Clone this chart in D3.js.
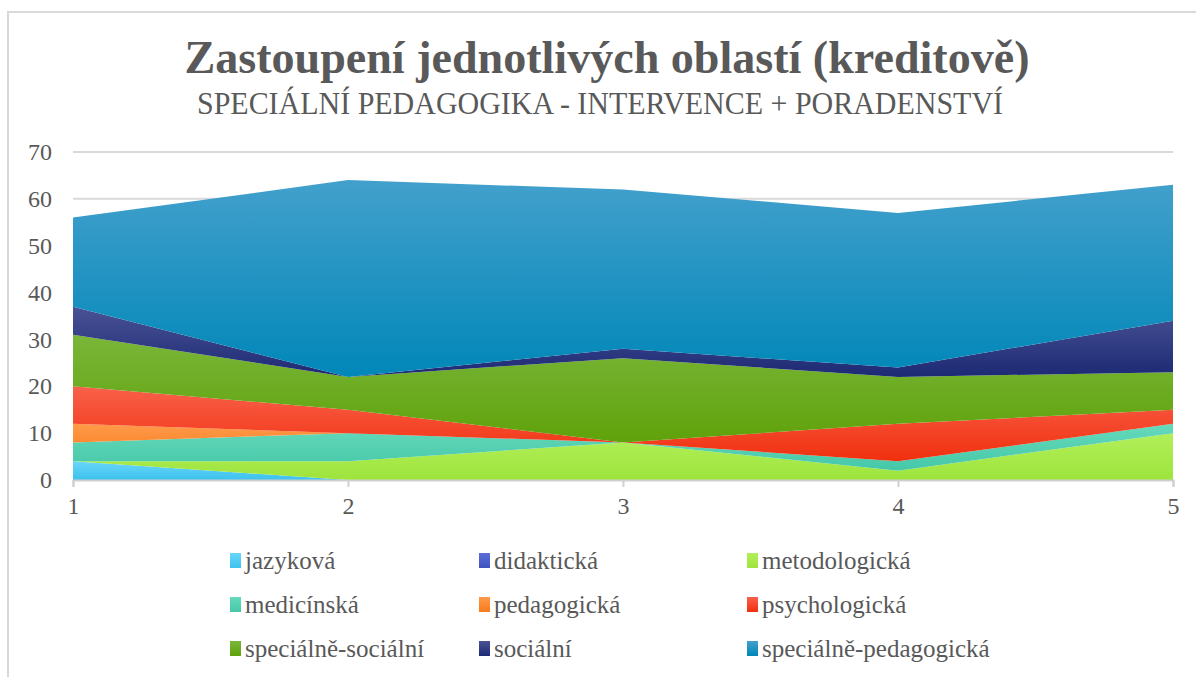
<!DOCTYPE html>
<html>
<head>
<meta charset="utf-8">
<script src="https://cdn.jsdelivr.net/npm/d3@7"></script>
<style>
  body { margin: 0; background: #fff; }
  svg { display: block; }
</style>
</head>
<body>
<svg id="chart" width="1196" height="677"></svg>
<script>
const categories = ['1', '2', '3', '4', '5']
const seriesNames = ['jazyková', 'didaktická', 'metodologická', 'medicínská', 'pedagogická',
    'psychologická', 'speciálně-sociální', 'sociální', 'speciálně-pedagogická']
const jazykova = [4, 0, 0, 0, 0]
const didakticka = [0, 0, 0, 0, 0]
const metodologicka = [0, 4, 8, 2, 10]
const medicinska = [4, 6, 0, 2, 2]
const pedagogicka = [4, 0, 0, 0, 0]
const psychologicka = [8, 5, 0, 8, 3]
const specialneSocialni = [11, 7, 18, 10, 8]
const socialni = [6, 0, 2, 2, 11]
const specialnePedagogicka = [19, 42, 34, 33, 29]
const yTicks = [0, 10, 20, 30, 40, 50, 60, 70]

const seriesValues = [jazykova, didakticka, metodologicka, medicinska, pedagogicka,
    psychologicka, specialneSocialni, socialni, specialnePedagogicka]
// light top / dark bottom, like the office gradients
const colors = [
    ['#6ad6f8', '#3cc2ee'],
    ['#5b6fd6', '#3f53c0'],
    ['#b2ef5a', '#9ee43c'],
    ['#66d9bb', '#45c8a8'],
    ['#ff9a4a', '#f87a1c'],
    ['#f9604a', '#f0300e'],
    ['#7ab63a', '#5fa20a'],
    ['#4a5294', '#1c2a74'],
    ['#43a0cc', '#0087b8']
]

const svg = d3.select('#chart')
const margin = { left: 73, right: 23, top: 152, bottom: 197 }
const width = 1196 - margin.left - margin.right
const height = 677 - margin.top - margin.bottom

const rows = categories.map((c, i) => {
    const r = { cat: c }
    seriesNames.forEach((n, j) => { r[n] = seriesValues[j][i] })
    return r
})
const stacked = d3.stack().keys(seriesNames)(rows)

const x = d3.scalePoint().domain(categories).range([0, width])
const y = d3.scaleLinear().domain([0, 70]).range([height, 0])

const font = "'Liberation Serif', 'DejaVu Serif', serif"

// chart frame
svg.append('path')
    .attr('d', 'M8,700 L8,12 L1200,12')
    .attr('fill', 'none')
    .attr('stroke', '#d9d9d9')
    .attr('stroke-width', 2)

const defs = svg.append('defs')
colors.forEach((c, i) => {
    const g = defs.append('linearGradient')
        .attr('id', 'grad' + i)
        .attr('x1', 0).attr('y1', 0).attr('x2', 0).attr('y2', 1)
    g.append('stop').attr('offset', '0%').attr('stop-color', c[0])
    g.append('stop').attr('offset', '100%').attr('stop-color', c[1])
})

// titles (condensed look: larger font squeezed into measured width)
svg.append('text')
    .attr('x', 607).attr('y', 73)
    .attr('text-anchor', 'middle')
    .attr('font-family', font)
    .attr('font-weight', 'bold')
    .attr('font-size', 47)
    .attr('fill', '#595959')
    .attr('textLength', 845)
    .attr('lengthAdjust', 'spacingAndGlyphs')
    .text('Zastoupení jednotlivých oblastí (kreditově)')

svg.append('text')
    .attr('x', 600).attr('y', 114)
    .attr('text-anchor', 'middle')
    .attr('font-family', font)
    .attr('font-size', 32)
    .attr('fill', '#595959')
    .attr('textLength', 806)
    .attr('lengthAdjust', 'spacingAndGlyphs')
    .text('SPECIÁLNÍ PEDAGOGIKA - INTERVENCE + PORADENSTVÍ')

const plot = svg.append('g').attr('transform', `translate(${margin.left},${margin.top})`)

// gridlines
plot.append('g')
    .selectAll('line')
    .data(yTicks.filter(d => d > 0))
    .enter()
    .append('line')
    .attr('x1', 0).attr('x2', width)
    .attr('y1', d => y(d)).attr('y2', d => y(d))
    .attr('stroke', '#d9d9d9')
    .attr('stroke-width', 2)

const area = d3.area()
    .x(d => x(d.data.cat))
    .y0(d => y(d[0]))
    .y1(d => y(d[1]))

plot.append('g')
    .selectAll('path')
    .data(stacked)
    .enter()
    .append('path')
    .attr('d', area)
    .attr('fill', (d, i) => `url(#grad${i})`)

// x axis
const xAxis = plot.append('g')
    .attr('transform', `translate(0,${height})`)
    .call(d3.axisBottom(x).tickSize(7).tickPadding(10))
xAxis.select('.domain').attr('stroke', '#d0d0d0').attr('stroke-width', 2)
xAxis.selectAll('.tick line').attr('stroke', '#d0d0d0').attr('stroke-width', 2)
xAxis.selectAll('.tick text')
    .attr('font-family', font).attr('font-size', 24).attr('fill', '#595959')

// y axis labels
const yAxis = plot.append('g')
    .call(d3.axisLeft(y).tickValues(yTicks).tickSize(0).tickPadding(21))
yAxis.select('.domain').remove()
yAxis.selectAll('.tick text')
    .attr('font-family', font).attr('font-size', 24).attr('fill', '#595959')

// legend
const legendCols = [230, 479, 747]
const legendRows = [561, 605, 649]
const legend = svg.append('g')
    .selectAll('g')
    .data(seriesNames)
    .enter()
    .append('g')
    .attr('transform', (d, i) => `translate(${legendCols[i % 3]},${legendRows[Math.floor(i / 3)]})`)
legend.append('rect')
    .attr('x', 0).attr('y', -8)
    .attr('width', 11).attr('height', 15)
    .attr('fill', (d, i) => `url(#grad${i})`)
legend.append('text')
    .attr('x', 15).attr('y', 8)
    .attr('font-family', font).attr('font-size', 25).attr('fill', '#595959')
    .text(d => d)
</script>
</body>
</html>
